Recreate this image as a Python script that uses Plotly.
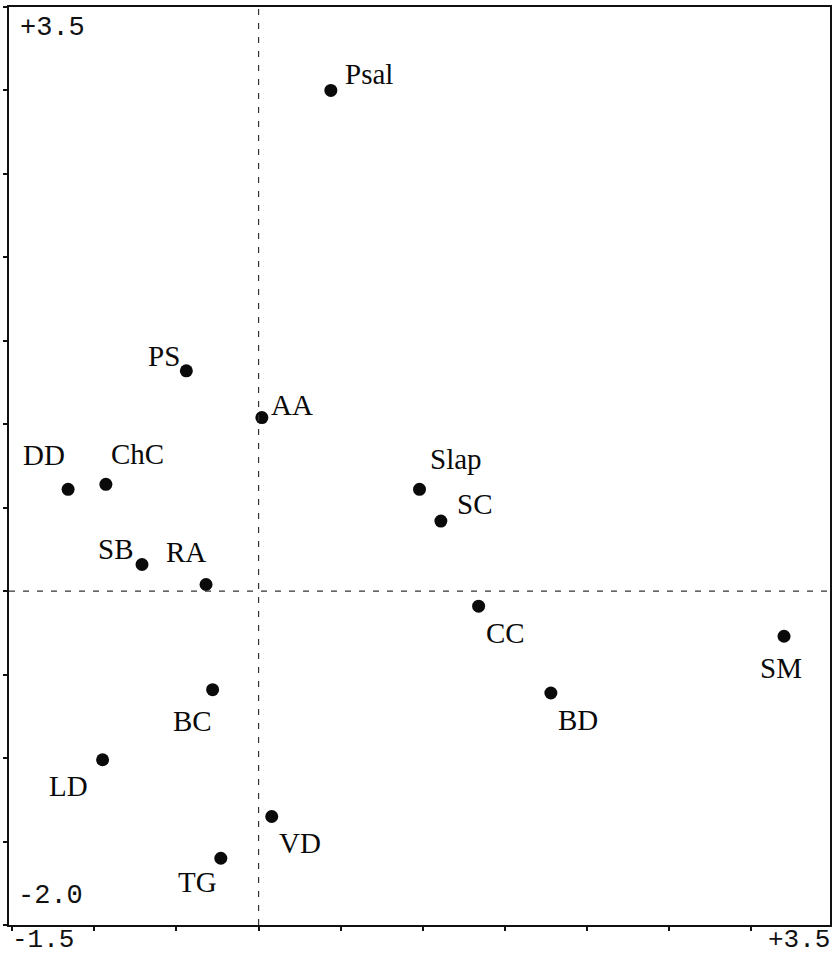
import plotly.graph_objects as go

# ---- data ----
names = ["Psal", "PS", "AA", "DD", "ChC", "Slap", "SC", "SB", "RA",
         "CC", "SM", "BC", "BD", "LD", "VD", "TG"]
x_vals = [0.44, -0.44, 0.02, -1.16, -0.93, 0.98, 1.11, -0.71, -0.32,
          1.34, 3.20, -0.28, 1.78, -0.95, 0.08, -0.23]
y_vals = [3.00, 1.32, 1.04, 0.61, 0.64, 0.61, 0.42, 0.16, 0.04,
          -0.09, -0.27, -0.59, -0.61, -1.01, -1.35, -1.60]
x_range = [-1.52, 3.48]
y_range = [-2.0, 3.5]
x_tick_labels = ["-1.5", "+3.5"]
y_tick_labels = ["-2.0", "+3.5"]

# ---- label placement (pixel offsets of label centre from its point) ----
label_offsets = {
    "Psal": (38, -16), "PS": (-22, -15), "AA": (30, -13), "DD": (-24, -34),
    "ChC": (32, -30), "Slap": (36, -30), "SC": (34, -17), "SB": (-27, -15),
    "RA": (-20, -33), "CC": (27, 27), "SM": (-3, 32), "BC": (-20, 31),
    "BD": (27, 27), "LD": (-34, 26), "VD": (28, 26), "TG": (-23, 24),
}

label_font = dict(family="Liberation Serif", size=29, color="#0a0a0a")
tick_font = dict(family="Liberation Mono", size=27, color="#111111")
tick_font_bottom = dict(family="Liberation Mono", size=26, color="#111111")

fig = go.Figure()
fig.add_trace(go.Scatter(
    x=x_vals, y=y_vals, mode="markers",
    marker=dict(size=13, color="#0a0a0a", line=dict(width=0)),
    hoverinfo="text", text=names, showlegend=False,
))

annotations = []
for n, xv, yv in zip(names, x_vals, y_vals):
    dx, dy = label_offsets[n]
    annotations.append(dict(
        x=xv, y=yv, xref="x", yref="y", text=n, showarrow=False,
        xanchor="center", yanchor="middle", xshift=dx, yshift=-dy,
        font=label_font,
    ))

# axis end labels
annotations += [
    dict(x=0, y=1, xref="paper", yref="paper", text=y_tick_labels[1],
         showarrow=False, xanchor="left", yanchor="middle",
         xshift=9, yshift=-21, font=tick_font),
    dict(x=0, y=0, xref="paper", yref="paper", text=y_tick_labels[0],
         showarrow=False, xanchor="left", yanchor="middle",
         xshift=7, yshift=29, font=tick_font),
    dict(x=0, y=0, xref="paper", yref="paper", text=x_tick_labels[0],
         showarrow=False, xanchor="left", yanchor="middle",
         xshift=1, yshift=-15, font=tick_font_bottom),
    dict(x=1, y=0, xref="paper", yref="paper", text=x_tick_labels[1],
         showarrow=False, xanchor="right", yanchor="middle",
         xshift=2, yshift=-15, font=tick_font_bottom),
]

shapes = [
    dict(type="line", xref="x", yref="paper", x0=0, x1=0, y0=0, y1=1,
         line=dict(color="#333333", width=1.2, dash="6px,8px")),
    dict(type="line", xref="paper", yref="y", x0=0, x1=1, y0=0, y1=0,
         line=dict(color="#333333", width=1.2, dash="6px,8px")),
]

axis_common = dict(
    showgrid=False, zeroline=False, showticklabels=False,
    showline=True, mirror=True, linecolor="#111111", linewidth=2,
    ticks="outside", ticklen=4, tickwidth=1.5, tickcolor="#111111",
    dtick=0.5, autorange=False,
)

fig.update_layout(
    width=837, height=957,
    margin=dict(l=9, r=6, t=5, b=32),
    paper_bgcolor="white", plot_bgcolor="white",
    xaxis=dict(range=x_range, tick0=-1.5, **axis_common),
    yaxis=dict(range=y_range, tick0=-2.0, **axis_common),
    annotations=annotations, shapes=shapes,
)

fig.write_html(
    "out.html",
    config={"displayModeBar": False},
    post_script="document.body.style.margin='0';document.body.style.overflow='hidden';",
)
